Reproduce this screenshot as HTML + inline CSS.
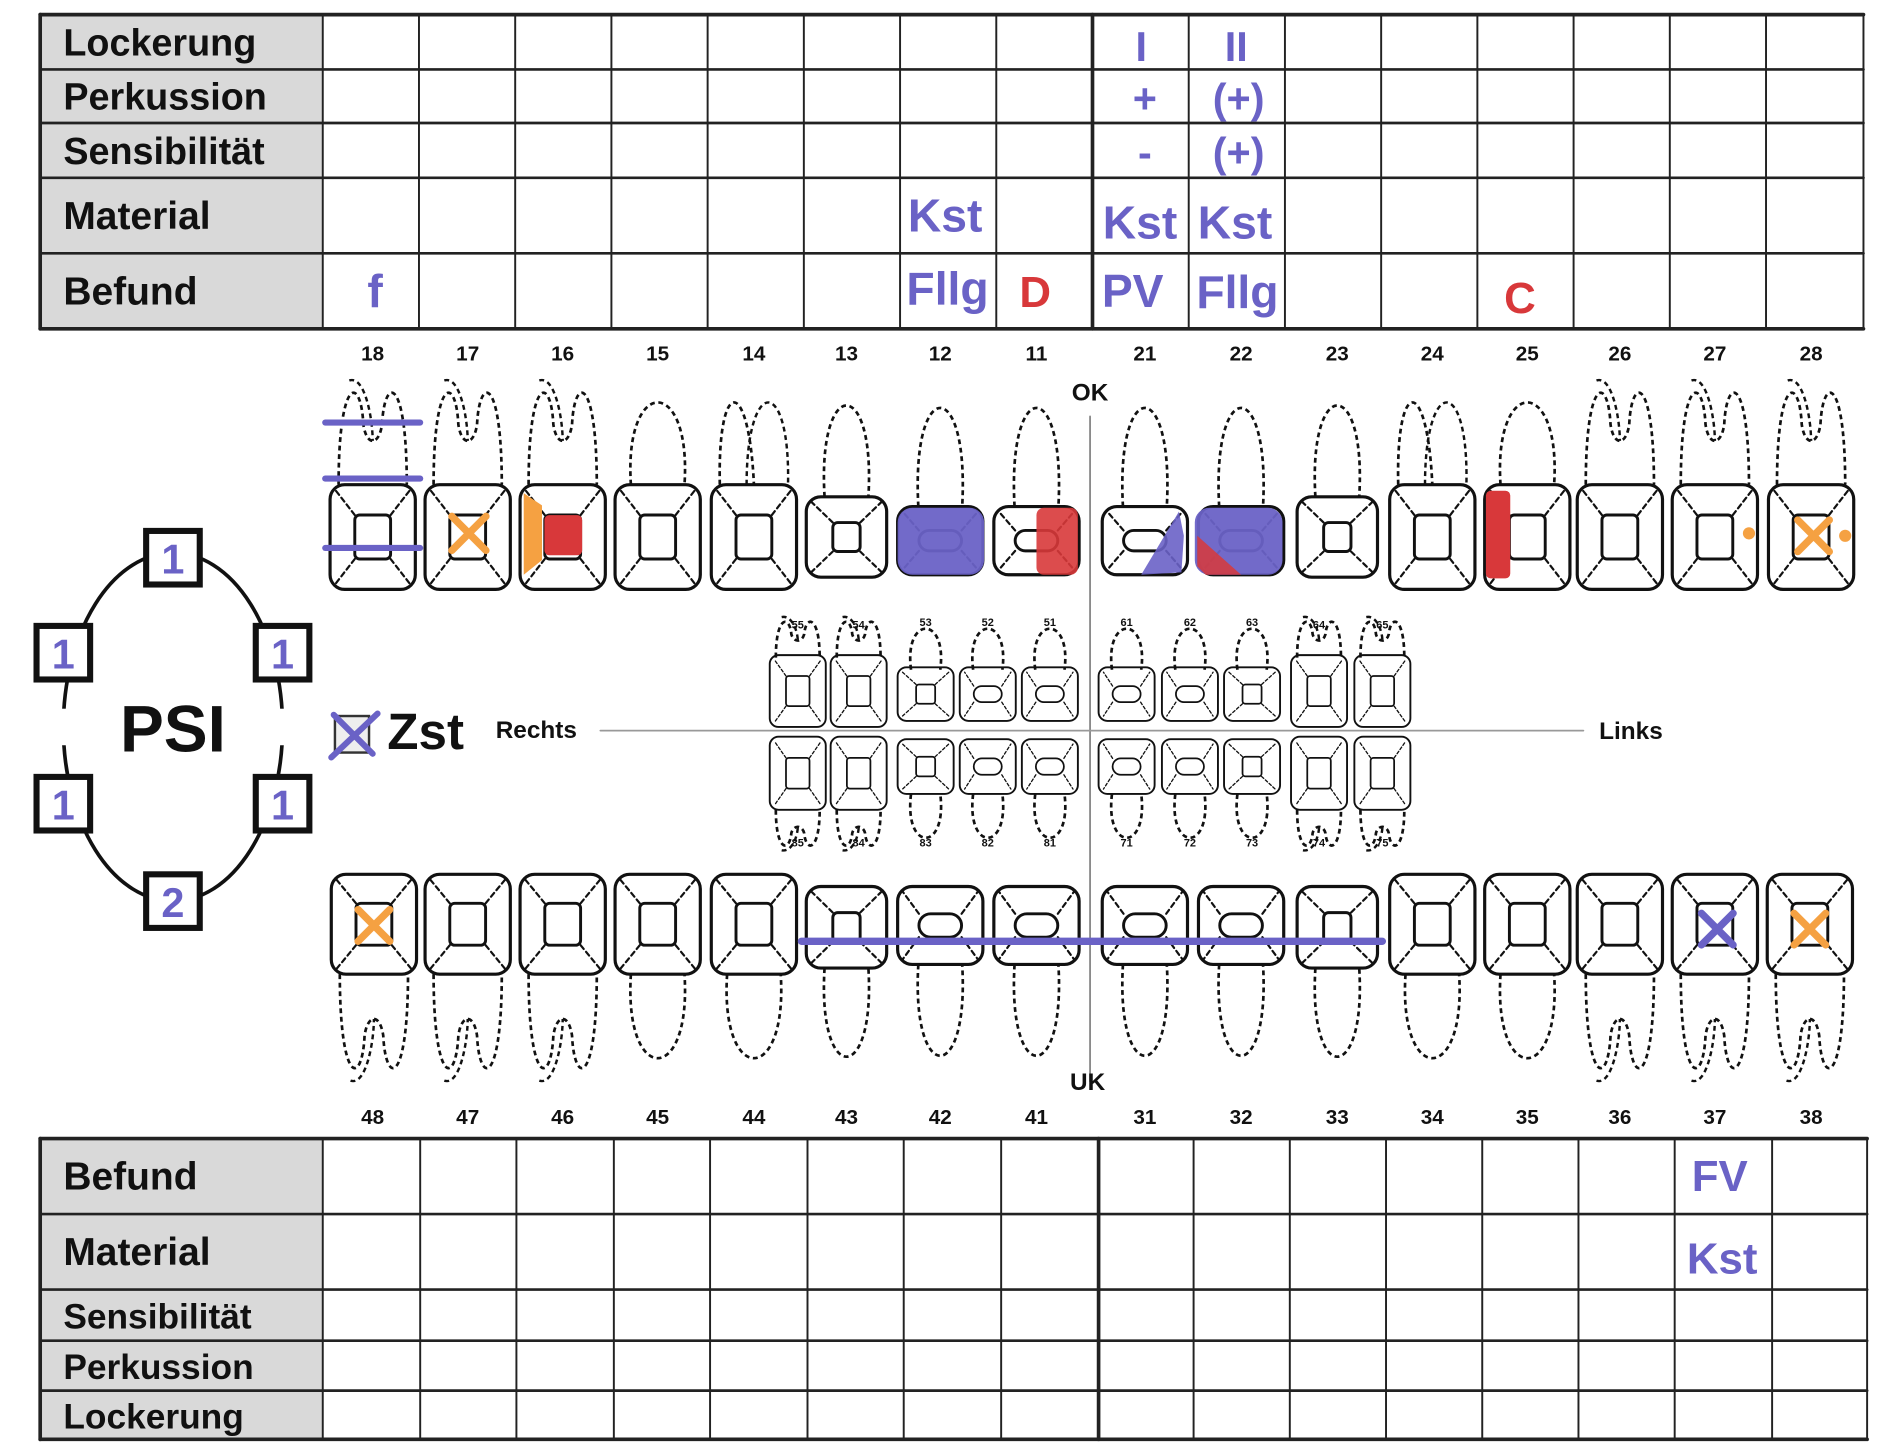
<!DOCTYPE html>
<html><head><meta charset="utf-8"><style>
html,body{margin:0;padding:0;background:#fff;}
svg{display:block;}
text{font-family:"Liberation Sans",sans-serif;}
</style></head><body>
<svg id="s" width="1900" height="1443" viewBox="0 0 1560 1185" preserveAspectRatio="none" xmlns="http://www.w3.org/2000/svg">
<rect width="1560" height="1185" fill="#fff"/>
<g id="g"></g>
</svg>
<script>
const B='#6a62c6',O='#f5a142',R='#d8383a';
let h='';
function line(x1,y1,x2,y2,st,w,d){h+=`<line x1="${x1}" y1="${y1}" x2="${x2}" y2="${y2}" stroke="${st}" stroke-width="${w}" ${d?'stroke-dasharray="'+d+'"':''} stroke-linecap="round"/>`;}
function txt(x,y,s,t,c,w,a){h+=`<text x="${x}" y="${y}" font-size="${s}" fill="${c}" font-weight="${w||'bold'}" text-anchor="${a||'middle'}">${t}</text>`;}
function table(y0,rows,labels,cols,thickIdx,lsizes){
  const x0=33,xl=265,x1=cols[cols.length-1];
  h+=`<rect x="${x0}" y="${rows[0]}" width="${xl-x0}" height="${rows[rows.length-1]-rows[0]}" fill="#d9d9d9"/>`;
  rows.forEach((y,i)=>line(x0,y,x1,y,'#222',(i==0||i==rows.length-1)?3:2.2));
  line(x0,rows[0],x0,rows[rows.length-1],'#222',3);
  cols.forEach((x,i)=>line(x,rows[0],x,rows[rows.length-1],'#222',i==thickIdx?3:1.6));
  labels.forEach((l,i)=>{txt(52,(rows[i]+rows[i+1])/2+11,lsizes[i],l,'#111','bold','start');});
}
const tc=[265,344,423,502,581,660,739,818,897,976,1055,1134,1213,1292,1371,1450,1530];
table(0,[12,57,101,146,208,270],['Lockerung','Perkussion','Sensibilität','Material','Befund'],tc,8,[31,31,31,32,32]);
const bc=[265,345,424,504,583,663,742,822,902,980,1059,1138,1217,1296,1375,1455,1533];
table(0,[935,997,1059,1101,1142,1182],['Befund','Material','Sensibilität','Perkussion','Lockerung'],bc,8,[32,32,29,29,29]);
txt(937,50,34,'I',B);txt(1015,50,34,'II',B);
txt(940,93,34,'+',B);txt(1017,93,34,'(+)',B);
txt(940,137,34,'-',B);txt(1017,137,34,'(+)',B);
txt(776,190,38,'Kst',B);txt(936,196,38,'Kst',B);txt(1014,196,38,'Kst',B);
txt(308,252,38,'f',B);txt(778,250,38,'Fllg',B);txt(850,252,36,'D',R);txt(930,252,38,'PV',B);txt(1016,253,38,'Fllg',B);txt(1248,257,36,'C',R);
txt(1412,978,36,'FV',B);txt(1414,1046,36,'Kst',B);
const up=[18,17,16,15,14,13,12,11,21,22,23,24,25,26,27,28],lo=[48,47,46,45,44,43,42,41,31,32,33,34,35,36,37,38];
const ux=[306,384,462,540,619,695,772,851,940,1019,1098,1176,1254,1330,1408,1487];
ux.forEach((x,i)=>{txt(x,296,17,up[i],'#111');txt(x,923,17,lo[i],'#111');});
line(895,342,895,888,'#888',1.5);line(493,600,1300,600,'#999',1.5);
txt(895,329,20,'OK','#111');txt(893,895,20,'UK','#111');
txt(407,606,20,'Rechts','#111','bold','start');txt(1313,607,20,'Links','#111','bold','start');
function crown(cx,y1,y2,w,type,sc){
  sc=sc||1;const x1=cx-w/2,x2=cx+w/2,r=12*sc;
  h+=`<rect x="${x1}" y="${y1}" width="${w}" height="${y2-y1}" rx="${r}" fill="none" stroke="#111" stroke-width="${2.6*sc}"/>`;
  const cy=(y1+y2)/2;let iw,ih;
  if(type=='i'){iw=w*0.5;ih=(y2-y1)*0.3;}else if(type=='c'){iw=w*0.34;ih=(y2-y1)*0.36;}else{iw=w*0.42;ih=(y2-y1)*0.42;}
  const a=cx-iw/2,b=cy-ih/2;
  h+=`<rect x="${a}" y="${b}" width="${iw}" height="${ih}" rx="${type=='i'?ih/2:4*sc}" fill="none" stroke="#111" stroke-width="${2.4*sc}"/>`;
  const d=(4*sc)+','+(3*sc);
  line(a,b,x1+4,y1+4,'#111',1.8*sc,d);line(a+iw,b,x2-4,y1+4,'#111',1.8*sc,d);
  line(a,b+ih,x1+4,y2-4,'#111',1.8*sc,d);line(a+iw,b+ih,x2-4,y2-4,'#111',1.8*sc,d);
}
function root(cx,yb,yt,w,kind,dir){
  const x1=cx-w/2+4,x2=cx+w/2-4;let p;
  if(kind=='m'){
    const m=yb+ (yt-yb)*0.55;
    p=`M${x1},${yb} C${x1},${yt} ${cx-w*0.15},${yt} ${cx-w*0.12},${m} C${cx-w*0.08},${m+(yb-yt)*0.2} ${cx+w*0.08},${m+(yb-yt)*0.2} ${cx+w*0.12},${m} C${cx+w*0.15},${yt} ${x2},${yt} ${x2},${yb}`;
    h+=`<path d="M${cx-w*0.3},${yt+(yb-yt)*0.05} C${cx-w*0.1},${yt} ${cx},${yt+(yb-yt)*0.4} ${cx},${yt+(yb-yt)*0.6}" fill="none" stroke="#111" stroke-width="2" stroke-dasharray="4,3"/>`;
  }else if(kind=='p2'){
    p=`M${x1},${yb} C${x1-2},${yt} ${cx-4},${yt} ${cx},${yb}`;
    h+=`<path d="M${cx-6},${yb} C${cx-6},${yt} ${x2+2},${yt} ${x2},${yb}" fill="none" stroke="#111" stroke-width="2" stroke-dasharray="4,3"/>`;
  }else{
    p=`M${x1+6},${yb} C${x1},${yt} ${x2},${yt} ${x2-6},${yb}`;
  }
  h+=`<path d="${p}" fill="none" stroke="#111" stroke-width="2.2" stroke-dasharray="4,3"/>`;
}
const kinds=['m','m','m','s','p2','s','s','s','s','s','s','p2','s','m','m','m'];
const ctype=['m','m','m','m','m','c','i','i','i','i','c','m','m','m','m','m'];
ux.forEach((x,i)=>{
  const t=ctype[i];
  let y1=398,y2=484;if(t=='c'){y1=408;y2=474;}if(t=='i'){y1=416;y2=472;}
  root(x,y1,308,t=='m'?64:56,kinds[i],-1);
  crown(x,y1,y2,t=='c'?66:70,t);
});
const lx=[307,384,462,540,619,695,772,851,940,1019,1098,1176,1254,1330,1408,1486];
const lk=['m','m','m','s','s','s','s','s','s','s','s','s','s','m','m','m'];
lx.forEach((x,i)=>{
  const t=ctype[i];
  let y1=718,y2=800;if(t=='c'){y1=728;y2=795;}if(t=='i'){y1=728;y2=792;}
  root(x,y2,892,t=='m'?64:56,lk[i],1);
  crown(x,y1,y2,t=='c'?66:70,t);
});
const dx=[655,705,760,811,862,925,977,1028,1083,1135];
const dt=['m','m','c','i','i','i','i','c','m','m'];
const dn=[55,54,53,52,51,61,62,63,64,65],dln=[85,84,83,82,81,71,72,73,74,75];
dx.forEach((x,i)=>{
  const t=dt[i];
  root(x,t=='m'?540:550,505,44,t=='m'?'m':'s',-1);
  crown(x,t=='m'?538:548,t=='m'?597:592,46,t,0.6);
  crown(x,t=='m'?605:607,t=='m'?665:652,46,t,0.6);
  root(x,t=='m'?665:652,700,44,t=='m'?'m':'s',1);
  txt(x,t=='m'?516:514,9,dn[i],'#111');txt(x,695,9,dln[i],'#111');
});
function X(cx,cy,s,c){line(cx-s,cy-s,cx+s,cy+s,c,6);line(cx+s,cy-s,cx-s,cy+s,c,6);}
line(267,347,345,347,B,5);line(267,393,345,393,B,5);line(267,450,345,450,B,5);
X(385,438,14,O);
h+=`<path d="M430,405 L445,415 L445,460 L430,472 Z" fill="${O}"/><rect x="447" y="423" width="31" height="33" rx="4" fill="${R}"/>`;
h+=`<rect x="737" y="417" width="71" height="55" rx="12" fill="${B}" opacity="0.95"/>`;
h+=`<rect x="851" y="417" width="34" height="55" rx="6" fill="${R}" opacity="0.9"/>`;
h+=`<path d="M968,420 L972,440 L970,470 L937,472 Z" fill="${B}" opacity="0.9"/>`;
h+=`<rect x="981" y="417" width="72" height="55" rx="12" fill="${B}" opacity="0.95"/><path d="M983,440 L1019,472 L990,472 L983,465 Z" fill="${R}" opacity="0.85"/>`;
h+=`<rect x="1220" y="403" width="20" height="72" rx="4" fill="${R}"/>`;
h+=`<circle cx="1436" cy="438" r="5" fill="${O}"/><circle cx="1515" cy="440" r="5" fill="${O}"/>`;
X(1489,440,13,O);X(307,760,13,O);X(1410,763,13,B);X(1486,763,13,O);
line(658,773,1135,773,B,6);
h+=`<ellipse cx="142" cy="597" rx="90" ry="143" fill="none" stroke="#111" stroke-width="3"/>`;
h+=`<rect x="43" y="582" width="20" height="30" fill="#fff"/><rect x="222" y="582" width="20" height="30" fill="#fff"/>`;
[[142,458,1],[52,536,1],[232,536,1],[52,660,1],[232,660,1],[142,740,2]].forEach(([x,y,n])=>{
  h+=`<rect x="${x-22}" y="${y-22}" width="44" height="44" fill="#fff" stroke="#111" stroke-width="5"/>`;txt(x,y+13,34,n,B);
});
txt(142,617,54,'PSI','#111');
h+=`<rect x="275" y="588" width="28" height="30" fill="#eee" stroke="#333" stroke-width="2"/>`;
line(274,587,306,619,B,5);line(310,586,272,622,B,5);
txt(318,615,42,'Zst','#111','bold','start');
document.getElementById('g').innerHTML=h;
</script>
</body></html>
